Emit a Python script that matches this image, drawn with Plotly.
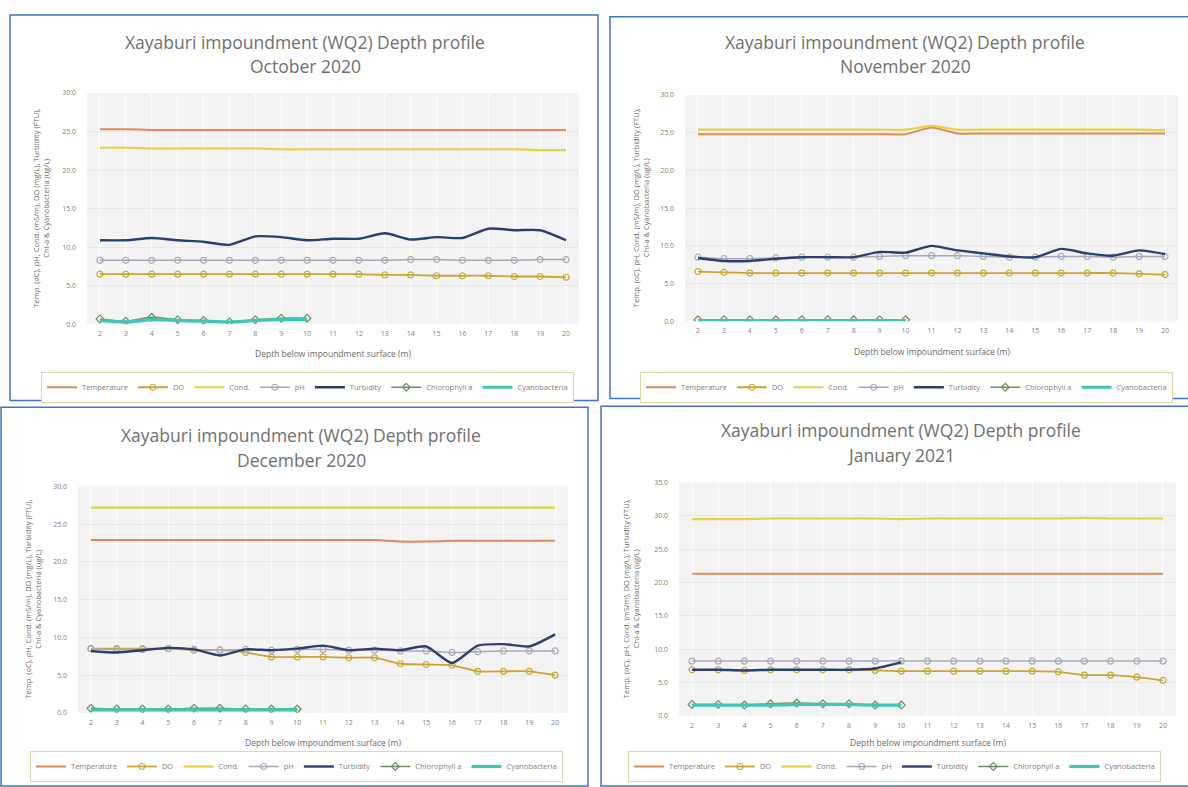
import plotly.graph_objects as go

W, H = 1188, 787

depths = [2, 3, 4, 5, 6, 7, 8, 9, 10, 11, 12, 13, 14, 15, 16, 17, 18, 19, 20]
depths_short = [2, 3, 4, 5, 6, 7, 8, 9, 10]

# October 2020
temp_oct = [25.3, 25.3, 25.2, 25.2, 25.2, 25.2, 25.2, 25.2, 25.2, 25.2, 25.2, 25.2, 25.2, 25.2, 25.2, 25.2, 25.2, 25.2, 25.2]
do_oct = [6.5, 6.5, 6.5, 6.5, 6.5, 6.5, 6.5, 6.5, 6.5, 6.5, 6.5, 6.4, 6.4, 6.3, 6.3, 6.3, 6.2, 6.2, 6.1]
cond_oct = [22.9, 22.9, 22.8, 22.8, 22.8, 22.8, 22.8, 22.7, 22.7, 22.7, 22.7, 22.7, 22.7, 22.7, 22.7, 22.7, 22.7, 22.6, 22.6]
ph_oct = [8.3, 8.3, 8.3, 8.3, 8.3, 8.3, 8.3, 8.3, 8.3, 8.3, 8.3, 8.3, 8.4, 8.4, 8.3, 8.3, 8.3, 8.4, 8.4]
turb_oct = [10.9, 10.9, 11.2, 10.9, 10.7, 10.3, 11.4, 11.3, 10.9, 11.1, 11.1, 11.8, 11.0, 11.3, 11.2, 12.4, 12.2, 12.2, 10.9]
chl_oct = [0.7, 0.4, 0.9, 0.6, 0.5, 0.3, 0.6, 0.8, 0.8]
cyano_oct = [0.5, 0.3, 0.6, 0.5, 0.4, 0.3, 0.5, 0.6, 0.6]

# November 2020
temp_nov = [24.8, 24.8, 24.8, 24.8, 24.8, 24.8, 24.8, 24.8, 24.8, 25.7, 24.9, 24.9, 24.9, 24.9, 24.9, 24.9, 24.9, 24.9, 24.9]
do_nov = [6.6, 6.5, 6.4, 6.4, 6.4, 6.4, 6.4, 6.4, 6.4, 6.4, 6.4, 6.4, 6.4, 6.4, 6.4, 6.4, 6.4, 6.3, 6.2]
cond_nov = [25.4, 25.4, 25.4, 25.4, 25.4, 25.4, 25.4, 25.4, 25.4, 25.9, 25.4, 25.4, 25.4, 25.4, 25.4, 25.4, 25.4, 25.4, 25.3]
ph_nov = [8.5, 8.3, 8.3, 8.4, 8.5, 8.5, 8.5, 8.6, 8.7, 8.7, 8.7, 8.6, 8.5, 8.5, 8.6, 8.6, 8.5, 8.6, 8.6]
turb_nov = [8.4, 8.0, 8.0, 8.3, 8.5, 8.5, 8.5, 9.2, 9.1, 10.0, 9.4, 9.0, 8.6, 8.5, 9.6, 9.0, 8.7, 9.4, 8.9]
chl_nov = [0.2, 0.2, 0.2, 0.2, 0.2, 0.2, 0.2, 0.2, 0.2]
cyano_nov = [0.1, 0.1, 0.1, 0.1, 0.1, 0.1, 0.1, 0.1, 0.1]

# December 2020
temp_dec = [22.9, 22.9, 22.9, 22.9, 22.9, 22.9, 22.9, 22.9, 22.9, 22.9, 22.9, 22.9, 22.7, 22.7, 22.8, 22.8, 22.8, 22.8, 22.8]
do_dec = [8.5, 8.5, 8.5, 8.5, 8.3, 8.3, 8.0, 7.4, 7.4, 7.4, 7.3, 7.3, 6.5, 6.4, 6.3, 5.5, 5.5, 5.5, 5.0]
cond_dec = [27.2, 27.2, 27.2, 27.2, 27.2, 27.2, 27.2, 27.2, 27.2, 27.2, 27.2, 27.2, 27.2, 27.2, 27.2, 27.2, 27.2, 27.2, 27.2]
ph_dec = [8.5, 8.4, 8.4, 8.5, 8.4, 8.3, 8.4, 8.3, 8.4, 8.4, 8.3, 8.3, 8.2, 8.2, 8.0, 8.1, 8.2, 8.2, 8.2]
turb_dec = [8.2, 8.0, 8.3, 8.6, 8.4, 7.6, 8.4, 8.3, 8.5, 8.9, 8.3, 8.5, 8.3, 8.8, 6.6, 8.9, 9.1, 8.8, 10.4]
chl_dec = [0.6, 0.5, 0.5, 0.5, 0.6, 0.6, 0.5, 0.5, 0.5]
cyano_dec = [0.4, 0.4, 0.4, 0.4, 0.4, 0.4, 0.4, 0.4, 0.4]

# January 2021
temp_jan = [21.3, 21.3, 21.3, 21.3, 21.3, 21.3, 21.3, 21.3, 21.3, 21.3, 21.3, 21.3, 21.3, 21.3, 21.3, 21.3, 21.3, 21.3, 21.3]
do_jan = [6.9, 6.9, 6.8, 6.9, 6.9, 6.9, 6.9, 6.8, 6.7, 6.7, 6.7, 6.7, 6.7, 6.7, 6.6, 6.1, 6.1, 5.8, 5.3]
cond_jan = [29.5, 29.5, 29.5, 29.6, 29.6, 29.6, 29.6, 29.6, 29.5, 29.6, 29.6, 29.6, 29.6, 29.6, 29.6, 29.7, 29.6, 29.6, 29.6]
ph_jan = [8.2, 8.2, 8.2, 8.2, 8.2, 8.2, 8.2, 8.2, 8.2, 8.2, 8.2, 8.2, 8.2, 8.2, 8.2, 8.2, 8.2, 8.2, 8.2]
turb_jan = [6.9, 6.9, 6.8, 6.9, 6.9, 6.9, 6.9, 7.1, 8.0]
chl_jan = [1.7, 1.7, 1.6, 1.8, 1.9, 1.8, 1.8, 1.6, 1.6]
cyano_jan = [1.6, 1.6, 1.6, 1.6, 1.7, 1.7, 1.7, 1.6, 1.6]

series_names = ["Temperature", "DO", "Cond.", "pH", "Turbidity", "Chlorophyll a", "Cyanobacteria"]
title_line1 = "Xayaburi impoundment (WQ2) Depth profile"
month_titles = ["October 2020", "November 2020", "December 2020", "January 2021"]
x_title = "Depth below impoundment surface (m)"
y_title = "Temp. (oC), pH, Cond. (mS/m), DO (mg/L), Turbidity (FTU),<br>Chl-a & Cyanobacteria (ug/L)"
y_max = [30, 30, 30, 35]

panels = [
    (temp_oct, do_oct, cond_oct, ph_oct, turb_oct, chl_oct, cyano_oct),
    (temp_nov, do_nov, cond_nov, ph_nov, turb_nov, chl_nov, cyano_nov),
    (temp_dec, do_dec, cond_dec, ph_dec, turb_dec, chl_dec, cyano_dec),
    (temp_jan, do_jan, cond_jan, ph_jan, turb_jan, chl_jan, cyano_jan),
]

# pixel layout of each panel: plot box, frame, title centre/lines, legend, axis titles
layout_px = [
    dict(plot=(87, 579, 89, 323), frame=(10, 598, 10, 400), title=(305, 37, 62), legend=(41, 371, "top"), xt=353, yt=41),
    dict(plot=(685, 1178, 91, 320), frame=(610, 1190, 12, 398), title=(905, 37, 62), legend=(640, 371, "top"), xt=351, yt=641),
    dict(plot=(78, 568, 487, 716), frame=(1, 588, 407, 790), title=(301, 435, 460), legend=(30, 786, "bottom"), xt=746, yt=33),
    dict(plot=(679, 1176, 483, 719), frame=(601, 1190, 406, 790), title=(901, 430, 455), legend=(628, 786, "bottom"), xt=746, yt=631),
]

styles = [
    dict(color="#DD8A5C", width=2, marker=None),
    dict(color="#C9A634", width=1.8, marker="circle-open"),
    dict(color="#E6D04A", width=2.2, marker=None),
    dict(color="#A8A8B8", width=1.5, marker="circle-open"),
    dict(color="#2E3E6C", width=2.4, marker=None),
    dict(color="#6E8F5E", width=1.5, marker="diamond-open"),
    dict(color="#3FC6B4", width=3.2, marker=None),
]

fig = go.Figure()

def fx(px):
    return px / W

def fy(py):
    return 1 - py / H

for i, (data, lay) in enumerate(zip(panels, layout_px)):
    n = i + 1
    xa = "x" if n == 1 else f"x{n}"
    ya = "y" if n == 1 else f"y{n}"
    leg = "legend" if n == 1 else f"legend{n}"
    for j, (vals, name, st) in enumerate(zip(data, series_names, styles)):
        xs = depths if len(vals) == len(depths) else depths_short
        mode = "lines+markers" if st["marker"] else "lines"
        tr = go.Scatter(
            x=xs, y=vals, name=name, mode=mode,
            line=dict(color=st["color"], width=st["width"], shape="spline", smoothing=0.6),
            xaxis=xa, yaxis=ya, legend=leg,
        )
        if st["marker"]:
            tr.marker = dict(symbol=st["marker"], size=6, color=st["color"], line=dict(width=1.2))
        fig.add_trace(tr)

    x0, x1, y0, y1 = lay["plot"]
    axkey = "xaxis" if n == 1 else f"xaxis{n}"
    aykey = "yaxis" if n == 1 else f"yaxis{n}"
    fig.layout[axkey] = dict(
        domain=[fx(x0), fx(x1)], anchor=ya, range=[1.5, 20.5],
        tickvals=depths, ticktext=[str(d) for d in depths],
        showgrid=True, gridcolor="#ffffff", gridwidth=1,
        showline=False, zeroline=False, ticks="", ticklabelstandoff=4,
        tickfont=dict(size=7, color="#7f7f7f", family="Open Sans"),
    )
    fig.layout[aykey] = dict(
        domain=[fy(y1), fy(y0)], anchor=xa, range=[0, y_max[i]], dtick=5,
        tickformat=".1f", showgrid=True, gridcolor="#e8e8e8", gridwidth=1,
        zeroline=False, showline=False, ticks="", ticklabelstandoff=10,
        tickfont=dict(size=7, color="#7f7f7f", family="Open Sans"),
    )

    lx, ly, lanchor = lay["legend"]
    fig.layout[leg] = dict(
        x=fx(lx), y=fy(ly), xanchor="left", yanchor=lanchor, orientation="h",
        bgcolor="#ffffff", bordercolor="#dcd8ae", borderwidth=1,
        font=dict(size=7.5, color="#7f7f7f", family="Open Sans"),
        itemwidth=30, tracegroupgap=0,
    )

    # chart frame
    fx0, fx1, fy0, fy1 = lay["frame"]
    fig.add_shape(type="rect", xref="paper", yref="paper",
                  x0=fx(fx0), x1=fx(fx1), y0=fy(fy1), y1=fy(fy0),
                  line=dict(color="#4472C4", width=1.5), fillcolor="rgba(0,0,0,0)")

    tcx, t1, t2 = lay["title"]
    fig.add_annotation(x=fx(tcx), y=fy(t1), xref="paper", yref="paper", text=title_line1,
                       showarrow=False, xanchor="center", yanchor="middle",
                       font=dict(size=17.5, color="#707070", family="Open Sans"))
    fig.add_annotation(x=fx(tcx), y=fy(t2), xref="paper", yref="paper", text=month_titles[i],
                       showarrow=False, xanchor="center", yanchor="middle",
                       font=dict(size=17.5, color="#707070", family="Open Sans"))
    fig.add_annotation(x=fx((x0 + x1) / 2), y=fy(lay["xt"]), xref="paper", yref="paper", text=x_title,
                       showarrow=False, xanchor="center", yanchor="middle",
                       font=dict(size=8.5, color="#6b6b6b", family="Open Sans"))
    fig.add_annotation(x=fx(lay["yt"]), y=fy((y0 + y1) / 2), xref="paper", yref="paper", text=y_title,
                       showarrow=False, xanchor="center", yanchor="middle", textangle=-90,
                       font=dict(size=7.5, color="#6b6b6b", family="Open Sans"))

fig.update_layout(
    width=W, height=H, margin=dict(l=0, r=0, t=0, b=0),
    paper_bgcolor="#ffffff", plot_bgcolor="#f3f3f3",
    showlegend=True,
)

fig.write_html("out.html")
